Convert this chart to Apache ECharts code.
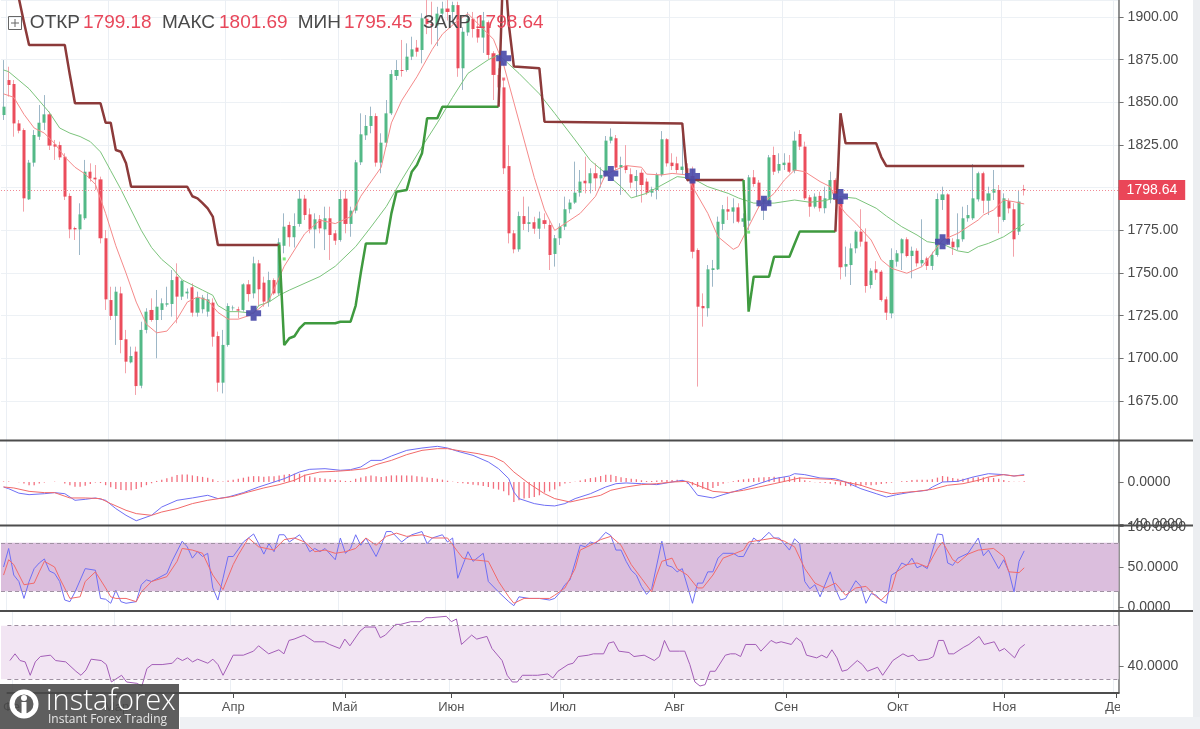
<!DOCTYPE html>
<html>
<head>
<meta charset="utf-8">
<script src="https://cdn.jsdelivr.net/npm/echarts@6/dist/echarts.min.js"></script>
<style>
  html, body { margin: 0; background: #fff; }
  #chart { width: 1200px; height: 729px; }
</style>
</head>
<body>
<div id="chart"></div>
<script>
// XAUUSD daily, weekdays from 29 Jan; the axis runs on to 1 Dec
var monthNames = ['Янв','Фев','Мар','Апр','Май','Июн','Июл','Авг','Сен','Окт','Ноя','Дек'];

// [open, close, low, high], one row per weekday
var ohlc = [
[1842.6,1847.5,1839.7,1874.8],[1863.1,1860.2,1853.4,1870.9],[1860.8,1837.7,1829.9,1863.1],[1837.7,1833.4,1831.9,1839.7],
[1833.8,1793.8,1786.0,1834.8],[1793.2,1814.7,1792.8,1816.3],[1814.7,1830.9,1812.4,1833.8],[1829.9,1838.1,1828.0,1848.5],
[1838.1,1843.0,1833.8,1854.3],[1843.0,1824.7,1822.1,1844.6],[1825.4,1824.1,1816.3,1828.0],[1825.0,1817.8,1816.3,1827.0],
[1818.2,1794.8,1792.8,1820.2],[1795.2,1775.6,1770.4,1796.7],[1776.4,1775.6,1769.4,1777.2],[1775.6,1784.4,1760.6,1790.9],
[1782.1,1809.4,1781.1,1816.3],[1809.4,1805.5,1803.6,1814.3],[1805.9,1804.9,1798.7,1813.3],[1804.9,1770.4,1767.4,1806.5],
[1770.4,1734.6,1728.4,1775.2],[1734.2,1724.9,1722.5,1742.0],[1724.9,1739.1,1707.9,1742.0],[1738.1,1710.8,1703.0,1742.0],
[1711.2,1698.1,1691.3,1716.7],[1697.7,1701.4,1697.1,1706.9],[1704.0,1683.8,1678.6,1706.9],[1684.0,1716.7,1682.5,1721.5],
[1716.7,1727.4,1714.7,1729.4],[1728.4,1722.5,1721.5,1735.2],[1722.5,1730.3,1700.1,1740.1],[1728.4,1732.3,1722.5,1735.2],
[1731.5,1732.3,1730.3,1742.0],[1731.9,1745.9,1724.5,1751.8],[1747.9,1736.2,1720.6,1755.7],[1736.2,1745.4,1734.2,1746.0],
[1738.1,1739.1,1735.0,1741.0],[1741.7,1726.8,1724.5,1744.0],[1726.8,1735.6,1724.5,1739.1],[1728.8,1735.6,1726.4,1737.2],
[1727.4,1734.6,1724.5,1738.1],[1732.7,1712.7,1706.9,1735.2],[1713.1,1685.8,1680.5,1715.7],[1685.8,1707.9,1679.5,1716.7],
[1707.9,1730.7,1706.9,1732.3],[1729.4,1729.8,1728.0,1731.0],[1728.8,1728.0,1723.5,1730.3],[1728.4,1743.4,1727.4,1744.0],
[1743.4,1737.7,1733.3,1745.9],[1738.1,1755.7,1735.2,1759.6],[1755.7,1740.5,1730.3,1757.7],[1744.4,1733.3,1730.3,1747.9],
[1733.3,1745.9,1730.3,1750.8],[1745.9,1738.1,1737.2,1746.9],[1738.1,1768.0,1737.2,1770.4],[1766.0,1777.2,1761.6,1785.0],
[1778.2,1771.0,1765.5,1780.1],[1771.0,1777.6,1765.0,1785.0],[1778.8,1793.6,1777.2,1798.7],[1793.6,1784.0,1781.1,1795.8],
[1784.4,1775.6,1773.3,1787.9],[1775.6,1781.5,1764.5,1785.0],[1781.5,1776.2,1773.3,1784.0],[1775.6,1782.1,1763.5,1788.9],
[1782.1,1772.3,1757.7,1788.9],[1773.3,1769.0,1766.5,1775.2],[1769.4,1793.4,1768.4,1798.7],[1793.6,1778.8,1773.3,1798.7],
[1778.8,1786.6,1771.3,1788.9],[1786.6,1814.9,1785.0,1816.3],[1814.9,1831.3,1813.3,1843.6],[1830.7,1836.2,1828.0,1842.6],
[1836.2,1842.0,1831.9,1847.5],[1842.0,1814.7,1812.4,1843.6],[1814.7,1826.4,1808.5,1831.9],[1826.4,1843.6,1824.1,1851.4],
[1843.6,1866.6,1842.6,1869.0],[1865.5,1869.0,1863.1,1874.8],[1869.0,1868.4,1865.1,1886.6],[1869.0,1876.8,1868.0,1884.6],
[1876.8,1881.1,1874.8,1888.5],[1882.1,1879.7,1876.8,1886.6],[1880.7,1899.3,1872.9,1902.2],[1899.0,1896.0,1890.0,1912.0],
[1896.0,1895.0,1884.0,1909.0],[1895.0,1902.0,1883.0,1906.0],[1902.0,1905.0,1899.0,1909.0],[1905.0,1903.0,1898.0,1916.0],
[1903.0,1907.0,1896.0,1909.0],[1907.0,1870.0,1865.0,1909.0],[1870.0,1891.4,1857.3,1894.0],[1891.0,1899.0,1889.0,1903.0],
[1899.0,1893.0,1888.0,1903.0],[1893.0,1888.0,1885.0,1900.0],[1888.0,1898.0,1879.0,1903.0],[1897.0,1877.8,1875.0,1898.0],
[1878.8,1866.1,1851.4,1880.0],[1866.1,1858.8,1852.0,1870.0],[1858.8,1811.4,1808.0,1864.0],[1812.7,1773.3,1767.4,1825.0],
[1773.3,1763.9,1761.6,1775.2],[1763.9,1783.4,1762.5,1786.0],[1783.4,1778.8,1775.2,1794.8],[1778.8,1779.8,1774.0,1789.0],
[1779.8,1776.0,1773.0,1783.0],[1776.0,1782.0,1770.0,1786.0],[1781.0,1778.8,1776.0,1785.0],[1778.2,1760.6,1751.8,1781.0],
[1761.2,1770.4,1753.8,1772.3],[1770.4,1777.2,1766.5,1779.2],[1777.2,1787.4,1775.2,1794.8],[1787.4,1791.3,1785.0,1793.2],
[1791.3,1797.1,1790.5,1815.3],[1797.1,1803.6,1794.8,1810.4],[1804.1,1802.6,1796.7,1818.2],[1802.6,1808.5,1796.7,1811.4],
[1808.5,1805.5,1798.7,1814.3],[1805.5,1807.5,1800.0,1812.0],[1807.5,1827.6,1806.5,1830.3],[1827.6,1829.9,1826.0,1834.8],
[1829.0,1811.8,1810.4,1830.9],[1811.8,1813.3,1795.8,1818.2],[1812.9,1810.4,1808.5,1825.0],[1807.9,1803.0,1799.7,1811.4],
[1803.9,1806.9,1794.8,1810.4],[1808.8,1801.6,1791.3,1810.8],[1803.6,1797.1,1795.8,1805.5],[1797.1,1799.1,1794.8,1800.6],
[1798.7,1807.5,1793.2,1808.8],[1807.5,1828.4,1806.5,1833.2],[1828.4,1814.3,1812.4,1829.0],[1814.7,1812.7,1810.4,1820.2],
[1814.3,1810.4,1808.5,1818.2],[1810.4,1812.4,1807.5,1831.9],[1811.4,1806.5,1803.6,1814.3],[1806.9,1762.5,1758.6,1812.4],
[1763.5,1730.3,1683.5,1764.5],[1730.7,1729.4,1718.6,1738.1],[1729.4,1752.2,1724.5,1754.7],[1751.8,1752.8,1742.0,1757.7],
[1752.2,1780.1,1751.8,1783.1],[1778.8,1787.4,1775.2,1789.9],[1787.4,1786.0,1781.1,1794.8],[1786.0,1788.5,1779.2,1793.8],
[1788.5,1780.1,1779.2,1790.9],[1780.1,1782.1,1777.0,1785.0],[1780.7,1806.1,1775.2,1807.5],[1806.1,1802.2,1800.6,1810.4],
[1803.0,1791.3,1788.0,1804.5],[1791.3,1793.2,1781.1,1794.8],[1791.3,1817.8,1789.9,1819.2],[1819.2,1809.4,1807.5,1824.1],
[1810.0,1813.9,1808.5,1820.2],[1813.3,1814.7,1810.4,1820.2],[1814.7,1809.4,1808.5,1819.2],[1810.0,1827.6,1808.5,1832.9],
[1831.5,1824.1,1822.1,1833.8],[1824.1,1793.8,1792.8,1827.0],[1794.4,1788.9,1783.0,1795.8],[1788.9,1794.8,1787.9,1796.7],
[1795.2,1788.0,1786.0,1797.7],[1788.0,1793.8,1785.0,1800.6],[1793.2,1804.5,1790.9,1809.4],[1804.5,1792.8,1791.3,1805.5],
[1793.8,1753.4,1746.3,1794.8],[1753.8,1755.3,1747.9,1765.5],[1754.7,1764.5,1743.0,1767.4],[1764.5,1774.3,1761.6,1775.2],
[1774.3,1768.4,1765.5,1787.4],[1768.4,1742.4,1738.5,1776.2],[1743.0,1751.4,1741.0,1752.8],[1752.2,1750.2,1746.0,1757.0],
[1750.8,1734.2,1733.3,1751.8],[1734.6,1726.8,1722.5,1736.2],[1726.4,1757.7,1723.5,1764.5],[1756.7,1761.6,1753.8,1763.5],
[1761.6,1769.8,1751.8,1770.4],[1769.8,1760.0,1759.2,1771.0],[1760.0,1763.1,1746.9,1765.5],[1763.1,1755.7,1753.8,1764.5],
[1755.7,1757.7,1753.8,1781.5],[1758.6,1754.2,1751.8,1759.6],[1754.2,1760.6,1751.8,1762.5],[1760.6,1793.4,1759.6,1796.7],
[1792.8,1796.1,1787.0,1800.6],[1796.1,1767.8,1766.5,1796.7],[1768.4,1765.1,1760.6,1770.4],[1765.1,1769.8,1763.5,1785.0],
[1769.8,1782.1,1768.4,1788.9],[1782.1,1784.0,1780.1,1789.9],[1782.1,1793.8,1781.1,1813.9],[1793.2,1808.5,1791.9,1809.4],
[1808.5,1792.4,1785.0,1809.4],[1792.4,1796.7,1784.0,1800.6],[1797.1,1799.1,1792.8,1810.4],[1798.7,1783.0,1773.3,1801.6],
[1781.1,1793.8,1780.1,1796.7],[1792.2,1787.9,1785.0,1793.8],[1787.4,1769.8,1759.6,1790.9],[1774.3,1791.9,1772.3,1798.7],
[1799.18,1798.64,1795.45,1801.69]
];

// moving averages: [bar, value]
var maFast = [[0,1855],[2,1853],[4,1843],[6,1835],[8,1832],[10,1826],[12,1818],[14,1812],[16,1808],[18,1802],[20,1785],
[22,1766],[24,1750],[26,1733],[28,1720],[30,1715],[32,1716],[34,1723],[36,1733],[38,1736],[40,1734],[42,1727],[44,1723],
[46,1723],[48,1725],[50,1729],[52,1734],[55,1754],[59,1773],[62,1781],[65,1779],[68,1783],[70,1795],[74,1812],[76,1838],
[78,1851],[81,1865],[84,1881],[86,1890],[89,1898],[91,1902],[94,1893],[96,1887],[98,1872],[100,1850],[102,1828],[104,1806],
[106,1787],[108,1775],[110,1779],[113,1785],[116,1795],[118,1808],[122,1813],[125,1812],[126,1808],[129,1807.5],[131,1808.4],
[134,1807.5],[135,1800.6],[138,1785],[140,1771.3],[143,1763.9],[144,1765.5],[146,1777.2],[148,1788.9],[151,1796.7],[153,1804.5],
[155,1810.4],[157,1809.4],[160,1803.6],[162,1800.6],[163,1792.8],[165,1785],[167,1779.2],[170,1769.4],[172,1757.7],[174,1752.8],
[177,1749.9],[180,1753.8],[182,1761.6],[184,1769.4],[187,1773.3],[189,1777.2],[191,1781.1],[192,1784],[194,1787],[196,1792.8],
[198,1791.8],[200,1790.5]];
var maSlow = [[0,1869],[1,1868],[3,1863],[5,1858],[7,1851],[9,1844],[11,1835],[13,1832],[15,1830],[17,1827],[19,1821],[21,1810],
[23,1799],[25,1787],[27,1775],[29,1765],[31,1758],[33,1753],[35,1746],[37,1743],[39,1740],[41,1737],[42,1731],[44,1727.4],
[46,1727.4],[49,1726.4],[50,1731],[52,1733],[54,1737],[56,1740],[62,1748],[65,1754],[69,1765.5],[72,1777],[75,1789],[78,1804.5],
[82,1824],[85,1838],[88,1853],[91,1867],[95,1875],[97,1878],[101,1867],[103,1861],[105,1855],[108,1843.6],[112,1828],[115,1816],
[118,1808.4],[121,1800.6],[123,1794],[126,1796.7],[129,1801.6],[132,1806.5],[135,1805.5],[138,1800.6],[142,1796.7],[144,1794],
[147,1791],[151,1791],[155,1792.8],[158,1791.5],[161,1792.5],[164,1794.8],[167,1793.8],[171,1788],[173,1783.4],[176,1777.2],
[179,1772.3],[181,1768.4],[184,1767],[187,1763],[189,1762],[191,1765.5],[193,1767.4],[196,1771.3],[198,1775.2],[200,1778.8]];

// trailing stop: above price (brown) / below price (green)
var stopBear1 = [[1,1945],[3,1911],[4,1897],[5,1883.6],[12,1883.6],[13,1866],[14,1849.5],[19,1849.5],[20,1838.1],[21,1838.1],
[22,1822.1],[23,1821.1],[24,1814.3],[25,1800.6],[36,1800.6],[37,1795],[38,1793.8],[39,1791],[40,1787.9],[41,1783.1],[42,1766.5],[54,1766.5]];
var stopBull1 = [[54,1766.5],[55,1707.8],[56,1711.8],[57,1713],[58,1717.6],[59,1720.6],[65,1720.6],[66,1721.5],[68,1721.5],[69,1731],
[70,1750],[71,1767.4],[75,1767.4],[76,1785],[77,1797.7],[79,1798.7],[80,1809.4],[81,1813.3],[82,1820.2],[83,1840.7],[85,1840.7],
[86,1847.5],[97,1847.5]];
var stopBear2 = [[97,1847.5],[98,1938],[99,1896],[100,1871],[105,1870],[106,1838.7],[133,1837.7],[134,1804.5],[145,1804.5]];
var stopBull2 = [[145,1804.5],[146,1727.4],[147,1747.9],[150,1747.9],[151,1759.6],[154,1759.6],[155,1767],[156,1774.3],[163,1774.3]];
var stopBear3 = [[163,1774.3],[164,1843.6],[165,1826],[171,1826],[172,1818],[173,1812.7],[200,1812.7]];
var buyDots = [[55,1758.3],[146,1774]];
var sellDots = [[98,1863.7]];
var crosses = [[49,1726.5],[98,1875.8],[119,1808.4],[135,1806.9],[149,1790.9],[164,1794.8],[184,1768.4]];

// MACD
var macdLine = [[0,-4.7],[1,-6.3],[3,-10.5],[5,-11.9],[8,-11],[10,-10],[12,-11],[14,-17.2],[16,-16.3],[18,-15],[20,-17.2],[22,-25],
[24,-31.3],[26,-36.4],[29,-31.3],[31,-23.5],[34,-17.2],[37,-15],[40,-12.5],[42,-15.6],[44,-14.1],[47,-10],[50,-4.7],[52,-1.6],
[55,3.1],[58,9.4],[60,11.9],[63,12.5],[66,11],[68,11.6],[70,14.1],[72,20.3],[74,20.3],[76,24.4],[79,29.7],[82,31.9],[85,33.5],
[87,31.9],[89,28.8],[92,25],[95,18.8],[97,12.5],[99,3.1],[100,-9.4],[101,-15.6],[104,-20.3],[106,-21.9],[108,-22.5],[110,-20.3],
[112,-15.6],[115,-11],[118,-4.7],[120,-1.6],[122,-0.9],[125,-1.6],[128,-2.5],[131,0],[133,1.6],[134,0],[136,-12.5],[139,-15],
[141,-11.9],[144,-7.8],[146,-4.7],[148,-1.6],[151,3.1],[154,5.6],[155,7.8],[157,6.9],[160,3.8],[163,3.1],[165,0],[168,-6.3],
[171,-11],[173,-14.1],[175,-11.9],[178,-9.4],[181,-7.8],[182,-4.7],[184,0],[187,0.6],[190,4.7],[193,7.8],[196,6.9],[198,5.6],[200,6.9]];
var macdSignal = [[0,-4.7],[2,-5.6],[5,-8.8],[8,-10],[10,-10],[13,-15],[16,-15],[19,-15.6],[21,-20.3],[24,-26.6],[26,-29.7],
[29,-31.3],[31,-28.2],[34,-25],[37,-20.3],[40,-17.2],[43,-15],[45,-13.5],[48,-9.4],[51,-5.6],[54,-2.5],[57,1.6],[59,6.3],[62,9.4],
[65,10],[68,11],[71,12.5],[73,16.3],[76,20.3],[79,25.7],[82,29.7],[85,31.3],[87,31.3],[90,28.8],[93,26.6],[96,23.5],[98,18.8],
[100,9.4],[103,-1.6],[106,-11],[108,-15.6],[111,-18.8],[114,-15.6],[117,-12.5],[119,-7.8],[122,-4.7],[125,-2.5],[128,-1.6],
[131,0],[134,0.6],[136,-3.1],[139,-8.8],[142,-10],[145,-7.8],[148,-4.7],[151,-1.6],[154,1.6],[156,3.8],[159,3.1],[162,2.5],
[165,0],[168,-3.1],[171,-7.8],[174,-11],[176,-10],[179,-8.8],[182,-6.9],[185,-3.1],[188,-1.6],[191,1.6],[193,4.7],[196,6.9],
[198,5.6],[200,6.3]];
var macdHist = [0.5,0.5,0,-0.3,-1.5,-3,-3,-1.5,-0.5,0,0.3,0,-1.5,-3,-4.5,-4.5,-3.5,-2,-0.5,-1,
-3,-5,-6.5,-7.5,-7.8,-7.8,-6.5,-5,-3,-1.2,1,2,3.5,5,6.5,7,7,6.2,5.5,4.8,
4,2.5,0.8,0.5,1.5,2.2,3,4,5,5.5,5.5,5,5.5,5.5,6,6.8,7.5,7.8,7.8,6.8,
5.5,4.3,3.8,3,2.5,1.8,1.5,1,1,3,4.3,5.5,6.2,5.5,4.7,5.3,6.2,6.2,6.2,6.2,
6.2,5.5,5,4.3,3.8,3.1,2.2,1.2,0.3,-0.6,-1.2,-1.9,-2.5,-3.1,-3.8,-4.7,-6.3,-7.2,-8.8,-12.5,
-18.8,-17.2,-15.6,-15,-14,-12.5,-10,-8.8,-7,-4,-1.5,-0.6,0.3,1.5,2.5,3.7,4.4,5.6,6.9,6.9,
5.6,4.4,3.7,3.1,2.5,1.6,0.9,0.9,1.3,1.9,1.9,1.9,2.2,1.9,-1.6,-3.1,-4.7,-6.3,-7.2,-5.6,
-3.8,-1.6,-0.3,0.6,1.9,2.5,3.1,3.8,4.1,4.4,4.7,5,4.7,4.4,4.7,5,4.1,1.6,0.6,-0.3,
-0.6,-0.9,-1.6,-2.2,-3.1,-3.8,-4.1,-3.8,-3.8,-3.1,-3.1,-2.5,-1.9,-1.3,-0.6,0,0.6,0.9,1.9,2.2,
2.2,2.2,2.5,4.1,5.6,5,3.8,3.1,3.1,3.8,4.1,4.4,4.4,4.4,3.8,3.1,1.9,0.6,0.3,0.3,0.6];

// stochastic %K / %D
var stochK = [[0,50],[1,73],[2,40],[3,32],[4,11],[5,32],[6,48],[7,55],[8,60],[9,45],[10,42],[11,32],[12,9],[13,7],[14,19],[16,48],
[18,46],[19,11],[20,10],[21,5],[22,21],[23,7],[24,5],[26,7],[27,28],[28,34],[29,32],[32,42],[33,57],[35,82],[36,75],[37,61],[38,69],
[39,63],[40,67],[41,24],[42,9],[43,36],[44,63],[45,63],[47,81],[49,91],[50,79],[51,66],[52,79],[53,69],[54,90],[55,90],[56,81],
[58,90],[59,81],[60,69],[61,73],[62,69],[63,73],[65,59],[66,86],[67,67],[68,73],[69,90],[70,77],[71,86],[73,63],[74,77],[75,94],
[76,94],[78,81],[79,86],[80,90],[82,94],[83,79],[84,86],[86,90],[87,81],[88,86],[89,36],[91,69],[92,57],[94,67],[95,32],[97,19],
[99,7],[100,2],[101,13],[103,11],[105,11],[107,9],[108,11],[109,18],[110,28],[111,34],[113,77],[114,75],[115,81],[116,79],[118,93],
[119,89],[120,71],[121,71],[122,57],[123,46],[124,40],[125,26],[126,16],[127,23],[129,82],[130,52],[131,50],[132,44],[133,48],
[135,5],[136,30],[137,30],[138,44],[139,44],[140,61],[141,67],[143,67],[144,63],[145,63],[146,75],[147,86],[148,81],[150,93],
[151,86],[152,86],[154,71],[155,85],[156,79],[157,32],[158,23],[159,28],[160,13],[162,44],[163,23],[164,9],[165,11],[167,33],
[168,26],[169,5],[170,17],[171,15],[172,8],[173,5],[174,40],[175,44],[176,55],[177,52],[178,61],[179,49],[180,52],[181,48],
[183,91],[184,90],[185,55],[186,52],[187,61],[189,67],[191,86],[192,64],[193,71],[195,48],[196,59],[197,44],[198,19],[199,57],[200,70]];
var stochD = [[0,40],[1,59],[2,53],[4,28],[6,30],[7,44],[8,57],[10,50],[11,36],[13,11],[15,13],[16,32],[18,44],[20,24],[21,13],
[22,11],[24,11],[26,7],[27,19],[29,32],[32,38],[34,57],[35,73],[37,71],[39,67],[41,40],[43,22],[45,53],[46,65],[48,86],[50,75],
[53,71],[55,84],[57,86],[59,81],[61,69],[63,71],[65,67],[67,69],[69,73],[71,86],[73,77],[75,88],[77,92],[79,88],[82,90],[84,86],
[87,86],[89,69],[90,61],[92,59],[95,57],[97,32],[99,13],[100,5],[102,11],[105,11],[107,11],[108,15],[110,24],[112,48],[113,71],
[115,77],[117,84],[119,88],[121,77],[123,53],[125,36],[127,19],[128,40],[129,57],[131,61],[132,48],[134,40],[136,24],[137,24],
[139,40],[141,61],[143,66],[145,71],[146,81],[149,84],[151,86],[153,82],[155,75],[157,48],[159,30],[161,24],[163,30],[165,15],
[167,24],[169,26],[171,13],[172,9],[174,22],[175,44],[177,53],[179,55],[181,50],[183,73],[184,81],[186,59],[187,55],[189,66],
[191,71],[194,73],[196,63],[197,44],[199,43],[200,49]];

// RSI
var rsi = [[0,44],[1,49],[2,44],[3,43],[4,33],[5,43],[6,47],[8,48],[9,44],[11,43],[13,36],[14,33],[15,37],[16,45],[18,44],[19,41],
[20,28],[22,33],[23,28],[25,27],[26,25],[27,38],[28,41],[30,41],[32,42],[33,46],[34,44],[35,46],[36,43],[37,45],[39,42],[40,45],
[41,41],[42,33],[44,48],[46,48],[48,51],[49,55],[51,49],[53,52],[54,49],[55,59],[56,60],[58,63],[60,58],[62,58],[63,56],[65,53],
[66,60],[67,55],[69,66],[70,69],[72,69],[73,61],[74,63],[76,71],[77,71],[79,73],[81,73],[82,76],[83,76],[86,77],[87,73],[88,75],
[89,56],[91,63],[92,60],[94,62],[95,53],[97,44],[98,33],[99,28],[100,28],[101,33],[103,33],[104,33],[106,34],[107,31],[108,36],
[110,41],[111,42],[112,47],[114,48],[115,49],[117,49],[118,57],[119,58],[120,51],[122,50],[123,47],[125,48],[127,44],[128,47],
[129,59],[130,51],[132,51],[133,51],[134,41],[135,28],[136,25],[137,26],[138,36],[139,36],[141,48],[142,49],[143,49],[144,47],
[145,56],[147,56],[148,51],[150,59],[151,57],[152,58],[154,56],[155,61],[156,58],[157,48],[159,46],[160,48],[161,46],[162,52],
[163,46],[164,36],[165,37],[167,44],[168,41],[169,36],[171,39],[172,33],[174,44],[176,49],[177,47],[178,48],[179,44],[181,45],
[182,47],[183,59],[184,59],[185,49],[186,49],[188,54],[189,56],[191,62],[192,56],[194,58],[195,51],[196,53],[198,46],[199,53],[200,56]];

// weekday categories
var days = [];
for (var d = new Date(Date.UTC(2021, 0, 29)); d <= new Date(Date.UTC(2021, 11, 1)); d.setUTCDate(d.getUTCDate() + 1)) {
  var wd = d.getUTCDay();
  if (wd !== 0 && wd !== 6) days.push(d.toISOString().slice(0, 10));
}
function monthStart(i) { return i > 0 && days[i].slice(5, 7) !== days[i - 1].slice(5, 7); }

var last = ohlc[ohlc.length - 1];
var bodies = ohlc.map(function (r) { return [r[0], r[1], Math.min(r[0], r[1]), Math.max(r[0], r[1])]; });

var upCol = '#53b987', downCol = '#eb4d5c';
var brown = '#8c3a3a', stopGreen = '#3f9a3f';
var blue = '#6f6ff5', red = '#f26a6a';
var font = 'Liberation Sans';

var gridL = 1, gridW = 1117.6;
var grids = [
  { left: gridL, width: gridW, top: 0, height: 440 },
  { left: gridL, width: gridW, top: 441, height: 84 },
  { left: gridL, width: gridW, top: 526, height: 85 },
  { left: gridL, width: gridW, top: 611, height: 82 }
];

function xAxis(k) {
  var bottom = k === 3;
  return {
    type: 'category', gridIndex: k, data: days, boundaryGap: true,
    axisLine: { show: bottom, lineStyle: { color: '#4d4d4d', width: 2 } },
    axisTick: { show: bottom, alignWithLabel: true, length: 5, interval: monthStart, lineStyle: { color: '#4d4d4d' } },
    axisLabel: {
      show: bottom, interval: monthStart, color: '#555', fontSize: 13, fontFamily: font, margin: 8,
      formatter: function (v) { return monthNames[+v.slice(5, 7) - 1]; }
    },
    splitLine: { show: true, interval: monthStart, lineStyle: { color: '#ebeff4', width: 1 } }
  };
}

function yAxis(k, min, max, extra) {
  var a = {
    type: 'value', gridIndex: k, position: 'right', min: min, max: max,
    axisLine: { show: true, lineStyle: { color: '#707070', width: 1.5 } },
    axisTick: { show: true, length: 5, lineStyle: { color: '#707070' } },
    axisLabel: { color: '#4a4a4a', fontSize: 14, fontFamily: font, margin: 9 },
    splitLine: { show: false }
  };
  return echarts.util.merge(a, extra, true);
}

var dashed = { color: '#a091a3', type: [4, 3], width: 1 };
// indicator band spanning the whole panel width
function band(lo, hi, color) {
  return { silent: true, itemStyle: { color: color }, data: [[{ x: gridL, yAxis: lo }, { x: gridL + gridW, yAxis: hi }]] };
}

// header: label right edge, value left edge
var headFont = '19px ' + font;
var header = [
  ['ОТКР', 80, last[0], 83],
  ['МАКС', 215, last[3], 219],
  ['МИН', 341, last[2], 344],
  ['ЗАКР', 471, last[1], 475]
];
var headerEls = [];
header.forEach(function (h) {
  headerEls.push({ type: 'text', x: h[1], y: 23, z: 70, style: { text: h[0], fill: '#4a4a4a', font: headFont, textAlign: 'right', textVerticalAlign: 'middle' } });
  headerEls.push({ type: 'text', x: h[3], y: 23, z: 70, style: { text: h[2].toFixed(2), fill: '#e8475a', font: headFont, textAlign: 'left', textVerticalAlign: 'middle' } });
});

var option = {
  animation: false,
  backgroundColor: '#fff',
  textStyle: { fontFamily: font },
  grid: grids,
  xAxis: [xAxis(0), xAxis(1), xAxis(2), xAxis(3)],
  yAxis: [
    yAxis(0, 1652.2, 1910, {
      minInterval: 25, maxInterval: 25, splitNumber: 10,
      axisLabel: { showMinLabel: false, showMaxLabel: false, formatter: function (v) { return v.toFixed(2); } },
      splitLine: { show: true, lineStyle: { color: '#edf1f5' } }
    }),
    yAxis(1, -40.4, 38.5, {
      axisLabel: { customValues: [0, -40], formatter: function (v) { return v.toFixed(4); } },
      axisTick: { customValues: [0, -40] }
    }),
    yAxis(2, -4.59, 100.87, {
      axisLabel: { customValues: [0, 50, 100], formatter: function (v) { return v.toFixed(4); } },
      axisTick: { customValues: [0, 50, 100] }
    }),
    yAxis(3, 19.78, 80.97, {
      axisLabel: { customValues: [40], formatter: function (v) { return v.toFixed(4); } },
      axisTick: { customValues: [40] }
    })
  ],
  series: [
    {
      name: 'wicks', type: 'candlestick', data: ohlc, barWidth: 1, silent: true, z: 2,
      itemStyle: { color: '#9db7c7', color0: '#f3a2aa', borderColor: '#9db7c7', borderColor0: '#f3a2aa', borderWidth: 1 }
    },
    {
      name: 'bodies', type: 'candlestick', data: bodies, barWidth: 3.6, silent: true, z: 3,
      itemStyle: { color: upCol, color0: downCol, borderColor: upCol, borderColor0: downCol, borderWidth: 0 },
      markLine: {
        silent: true, symbol: 'none', animation: false,
        lineStyle: { color: '#f08a95', type: [1, 2], width: 1 },
        label: {
          show: true, position: 'end', distance: 0,
          formatter: function (p) { return p.value.toFixed(2); },
          backgroundColor: '#ea4658', color: '#fff', fontSize: 14, fontFamily: font,
          padding: [3, 8, 3, 8], lineHeight: 14
        },
        data: [{ yAxis: last[1] }]
      }
    },
    { type: 'line', data: maSlow, showSymbol: false, silent: true, z: 4, lineStyle: { color: '#7cc47c', width: 1 } },
    { type: 'line', data: maFast, showSymbol: false, silent: true, z: 4, lineStyle: { color: '#f58a8a', width: 1 } },
    { type: 'line', data: stopBear1, showSymbol: false, silent: true, z: 5, lineStyle: { color: brown, width: 2.5 } },
    { type: 'line', data: stopBull1, showSymbol: false, silent: true, z: 5, lineStyle: { color: stopGreen, width: 2.5 } },
    { type: 'line', data: stopBear2, showSymbol: false, silent: true, z: 5, lineStyle: { color: brown, width: 2.5 } },
    { type: 'line', data: stopBull2, showSymbol: false, silent: true, z: 5, lineStyle: { color: stopGreen, width: 2.5 } },
    { type: 'line', data: stopBear3, showSymbol: false, silent: true, z: 5, lineStyle: { color: brown, width: 2.5 } },
    { type: 'scatter', data: buyDots, symbol: 'rect', symbolSize: 3, silent: true, z: 6, itemStyle: { color: '#5be35b' } },
    { type: 'scatter', data: sellDots, symbol: 'rect', symbolSize: 3, silent: true, z: 6, itemStyle: { color: '#f25a6a' } },
    {
      type: 'scatter', data: crosses, silent: true, z: 7, symbolSize: 15,
      symbol: 'path://M3,0H7V3H10V7H7V10H3V7H0V3H3Z',
      itemStyle: { color: '#4848a8', opacity: 0.9 }
    },

    { type: 'bar', xAxisIndex: 1, yAxisIndex: 1, data: macdHist, barWidth: 1.3, silent: true, itemStyle: { color: '#f36f7e' } },
    { type: 'line', xAxisIndex: 1, yAxisIndex: 1, data: macdLine, showSymbol: false, silent: true, lineStyle: { color: blue, width: 1 } },
    { type: 'line', xAxisIndex: 1, yAxisIndex: 1, data: macdSignal, showSymbol: false, silent: true, lineStyle: { color: red, width: 1 } },

    {
      type: 'line', xAxisIndex: 2, yAxisIndex: 2, data: stochK, showSymbol: false, silent: true, z: 3,
      lineStyle: { color: blue, width: 1 },
      markArea: band(20, 80, '#dbbedd'),
      markLine: { silent: true, symbol: 'none', label: { show: false }, lineStyle: dashed, data: [{ yAxis: 80 }, { yAxis: 20 }] }
    },
    { type: 'line', xAxisIndex: 2, yAxisIndex: 2, data: stochD, showSymbol: false, silent: true, z: 3, lineStyle: { color: red, width: 1 } },

    {
      type: 'line', xAxisIndex: 3, yAxisIndex: 3, data: rsi, showSymbol: false, silent: true, z: 3,
      lineStyle: { color: '#a35db7', width: 1 },
      markArea: band(30, 70, '#f2e5f3'),
      markLine: { silent: true, symbol: 'none', label: { show: false }, lineStyle: dashed, data: [{ yAxis: 70 }, { yAxis: 30 }] }
    }
  ],
  graphic: [
    // panel separators
    { type: 'line', shape: { x1: 0, y1: 440.5, x2: 1193, y2: 440.5 }, style: { stroke: '#4d4d4d', lineWidth: 2 }, z: 50 },
    { type: 'line', shape: { x1: 0, y1: 525.5, x2: 1193, y2: 525.5 }, style: { stroke: '#4d4d4d', lineWidth: 2 }, z: 50 },
    { type: 'line', shape: { x1: 0, y1: 611, x2: 1193, y2: 611 }, style: { stroke: '#4d4d4d', lineWidth: 2 }, z: 50 },
    // right and bottom frame strips
    { type: 'rect', shape: { x: 1120, y: 696, width: 73, height: 20 }, style: { fill: '#fff' }, z: 60 },
    { type: 'rect', shape: { x: 1193, y: 0, width: 7, height: 729 }, style: { fill: '#eceef1' }, z: 60 },
    { type: 'rect', shape: { x: 180, y: 717, width: 1020, height: 12 }, style: { fill: '#eff1f4' }, z: 60 },
    // header icon
    { type: 'rect', shape: { x: 8.5, y: 16.5, width: 13, height: 13 }, style: { fill: 'none', stroke: '#666', lineWidth: 1 }, z: 70 },
    { type: 'line', shape: { x1: 15, y1: 19, x2: 15, y2: 27 }, style: { stroke: '#666', lineWidth: 1 }, z: 70 },
    { type: 'line', shape: { x1: 11, y1: 23, x2: 19, y2: 23 }, style: { stroke: '#666', lineWidth: 1 }, z: 70 }
  ].concat(headerEls).concat([
    // watermark
    { type: 'rect', z: 80, shape: { x: 0, y: 684, width: 179, height: 45 }, style: { fill: 'rgba(72,72,72,0.88)' } },
    { type: 'circle', z: 81, shape: { cx: 24, cy: 704, r: 12 }, style: { fill: 'none', stroke: '#fff', lineWidth: 5 } },
    { type: 'circle', z: 81, shape: { cx: 24, cy: 698, r: 3 }, style: { fill: '#fff' } },
    { type: 'rect', z: 81, shape: { x: 21.5, y: 702, width: 5, height: 12 }, style: { fill: '#fff' } },
    { type: 'text', z: 81, x: 46, y: 702, style: { text: 'instaforex', fill: '#fff', font: '300 29px "Open Sans"', textVerticalAlign: 'middle' } },
    { type: 'text', z: 81, x: 48, y: 720, style: { text: 'Instant Forex Trading', fill: '#e6e6e6', font: '12px "Open Sans"', textVerticalAlign: 'middle' } }
  ])
};

var chart = echarts.init(document.getElementById('chart'));
chart.setOption(option);
</script>
</body>
</html>
